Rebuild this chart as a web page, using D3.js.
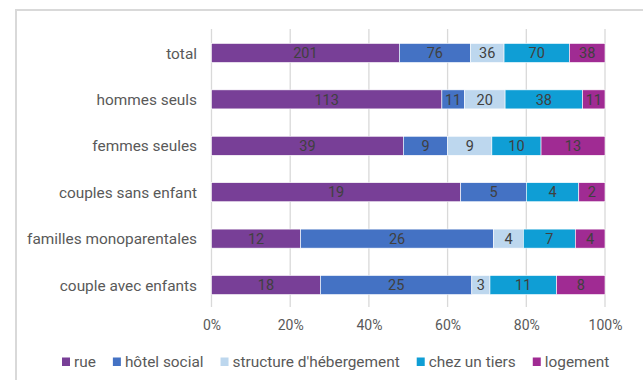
<!DOCTYPE html>
<html><head><meta charset="utf-8">
<script src="https://cdn.jsdelivr.net/npm/d3@7"></script>
<style>body{margin:0;background:#fff}svg{display:block}</style>
</head><body>
<svg id="c" width="643" height="380"></svg>
<script>
const categories = ["total","hommes seuls","femmes seules","couples sans enfant","familles monoparentales","couple avec enfants"];
const seriesNames = ["rue","hôtel social","structure d'hébergement","chez un tiers","logement"];
const rue = [201,113,39,19,12,18];
const hotelSocial = [76,11,9,5,26,25];
const structure = [36,20,9,0,4,3];
const chezTiers = [70,38,10,4,7,11];
const logement = [38,11,13,2,4,8];
const tickLabels = [0,0.2,0.4,0.6,0.8,1];
const colors = ["#783F97","#4472C4","#BDD7EE","#0F9ED5","#A02B93"];

const seriesVals = [rue,hotelSocial,structure,chezTiers,logement];
const rows = categories.map((c,i)=>{
  const o = {cat:c};
  const tot = d3.sum(seriesVals, s=>s[i]);
  seriesNames.forEach((n,j)=>{ o[n] = seriesVals[j][i]/tot; o[n+"_raw"] = seriesVals[j][i]; });
  return o;
});
const stack = d3.stack().keys(seriesNames)(rows);

const svg = d3.select("#c");
const font = "Roboto, 'Noto Sans', sans-serif";
// frame
svg.append("path").attr("d","M16,381 V10 H644").attr("fill","none").attr("stroke","#d9d9d9").attr("stroke-width",2);

const x = d3.scaleLinear().domain([0,1]).range([211.5,605]);
const y = d3.scaleBand().domain(categories).range([30,308]).paddingInner(0.59).paddingOuter(0.29);

// gridlines
svg.append("g").selectAll("line").data(tickLabels).join("line")
  .attr("x1",d=>x(d)).attr("x2",d=>x(d)).attr("y1",29).attr("y2",307)
  .attr("stroke","#d9d9d9").attr("stroke-width",1.3);

// bars
const g = svg.append("g");
stack.forEach((s,j)=>{
  g.selectAll(null).data(s).join("rect")
    .attr("x",d=>x(d[0])).attr("width",d=>x(d[1])-x(d[0]))
    .attr("y",d=>y(d.data.cat)).attr("height",y.bandwidth())
    .attr("fill",colors[j]).attr("stroke","#fff").attr("stroke-width",0.6);
  g.selectAll(null).data(s.filter(d=>d.data[seriesNames[j]+"_raw"]>0)).join("text")
    .attr("x",d=>(x(d[0])+x(d[1]))/2).attr("y",d=>y(d.data.cat)+y.bandwidth()/2)
    .attr("dy","0.36em").attr("text-anchor","middle")
    .attr("font-family",font).attr("font-size",14.5).attr("fill","#404040")
    .text(d=>d.data[seriesNames[j]+"_raw"]);
});

// y axis labels
const ya = svg.append("g").attr("transform","translate(197,0)")
  .call(d3.axisLeft(y).tickSize(0).tickPadding(0));
ya.select(".domain").remove();
ya.selectAll("text").attr("font-family",font).attr("font-size",15.4).attr("fill","#595959").attr("dy","0.36em");

// x axis
const xa = svg.append("g").attr("transform","translate(0,320.5)")
  .call(d3.axisBottom(x).tickValues(tickLabels).tickFormat(d3.format(".0%")).tickSize(0).tickPadding(0));
xa.select(".domain").remove();
xa.selectAll("text").attr("font-family",font).attr("font-size",14).attr("fill","#595959").attr("dy","0.71em");

// legend
const lg = svg.append("g");
let lx = 62;
seriesNames.forEach((n,j)=>{
  lg.append("rect").attr("x",lx).attr("y",357.5).attr("width",8).attr("height",8.5).attr("fill",colors[j]);
  const t = lg.append("text").attr("x",lx+12).attr("y",361.5).attr("dy","0.36em")
    .attr("font-family",font).attr("font-size",15.4).attr("fill","#595959").text(n);
  lx += 12 + t.node().getComputedTextLength() + 17;
});
</script>
</body></html>
